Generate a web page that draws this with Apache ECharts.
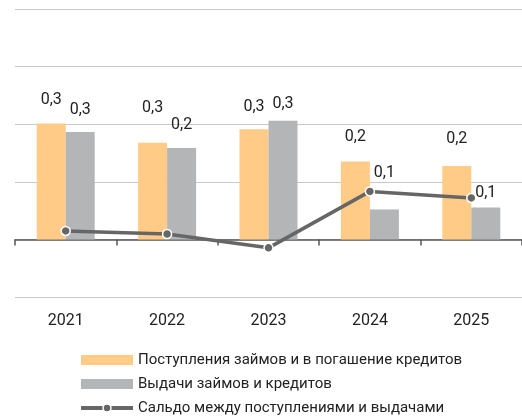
<!DOCTYPE html>
<html>
<head>
<meta charset="utf-8">
<script src="https://cdn.jsdelivr.net/npm/echarts@6/dist/echarts.min.js"></script>
<style>html,body{margin:0;padding:0;background:#fff;}#c{width:522px;height:420px;}</style>
</head>
<body>
<div id="c"></div>
<script>
const categories = ['2021', '2022', '2023', '2024', '2025'];
const inflows = [0.302, 0.252, 0.287, 0.203, 0.191];
const outflows = [0.280, 0.238, 0.309, 0.078, 0.083];
const balance = [0.022, 0.014, -0.022, 0.125, 0.108];
const seriesNames = ['Поступления займов и в погашение кредитов', 'Выдачи займов и кредитов', 'Сальдо между поступлениями и выдачами'];

// label layout (not data)
const inflowLabelDist = [15, 27, 14, 16, 19];
const outflowLabelDist = [14, 15, 9, 28, 7];

const FONT = 'Roboto';
const fmt = v => v.toFixed(1).replace('.', ',');
function withLabels(vals, dists) {
  return vals.map((v, i) => ({ value: v, label: { distance: dists[i] } }));
}

const chart = echarts.init(document.getElementById('c'), null, { renderer: 'canvas' });
chart.setOption({
  animation: false,
  textStyle: { fontFamily: FONT },
  grid: { left: 15, right: -3, top: 9, bottom: 123, containLabel: false },
  legend: {
    orient: 'vertical', left: 79, top: 351, height: 120, width: 440, padding: 0,
    itemWidth: 52, itemHeight: 10, itemGap: 6, itemGap: 6,
    textStyle: { fontFamily: FONT, fontSize: 15, color: '#222', lineHeight: 18 },
    data: [
      { name: seriesNames[0], icon: 'rect' },
      { name: seriesNames[1], icon: 'rect' },
      { name: seriesNames[2], lineStyle: { width: 4 }, itemStyle: { borderWidth: 1.5, borderColor: '#fff' } }
    ]
  },
  xAxis: {
    type: 'category', data: categories,
    axisLine: { onZero: true, lineStyle: { color: '#555', width: 1.5 } },
    axisTick: { show: true, length: 6, lineStyle: { color: '#555', width: 1.5 } },
    axisLabel: { margin: 16, fontSize: 16, color: '#222', fontFamily: FONT },
    splitLine: { show: false }
  },
  yAxis: {
    type: 'value', min: -0.15, max: 0.6, interval: 0.15,
    axisLabel: { show: false }, axisLine: { show: false }, axisTick: { show: false },
    splitLine: { lineStyle: { color: '#c8c8c8', width: 1.2 } }
  },
  series: [
    {
      name: seriesNames[0], type: 'bar', barWidth: 29, barGap: 0,
      itemStyle: { color: '#FFCB87' },
      label: { show: true, position: 'top', fontSize: 16, color: '#222', fontFamily: FONT, formatter: p => fmt(p.value) },
      data: withLabels(inflows, inflowLabelDist)
    },
    {
      name: seriesNames[1], type: 'bar', barWidth: 29, barGap: 0,
      itemStyle: { color: '#B4B5B7' },
      label: { show: true, position: 'top', fontSize: 16, color: '#222', fontFamily: FONT, formatter: p => fmt(p.value) },
      data: withLabels(outflows, outflowLabelDist)
    },
    {
      name: seriesNames[2], type: 'line', z: 5,
      symbol: 'circle', symbolSize: 9,
      lineStyle: { color: '#666', width: 3.5 },
      itemStyle: { color: '#666', borderColor: '#fff', borderWidth: 1.5 },
      data: balance
    }
  ]
});
</script>
</body>
</html>
